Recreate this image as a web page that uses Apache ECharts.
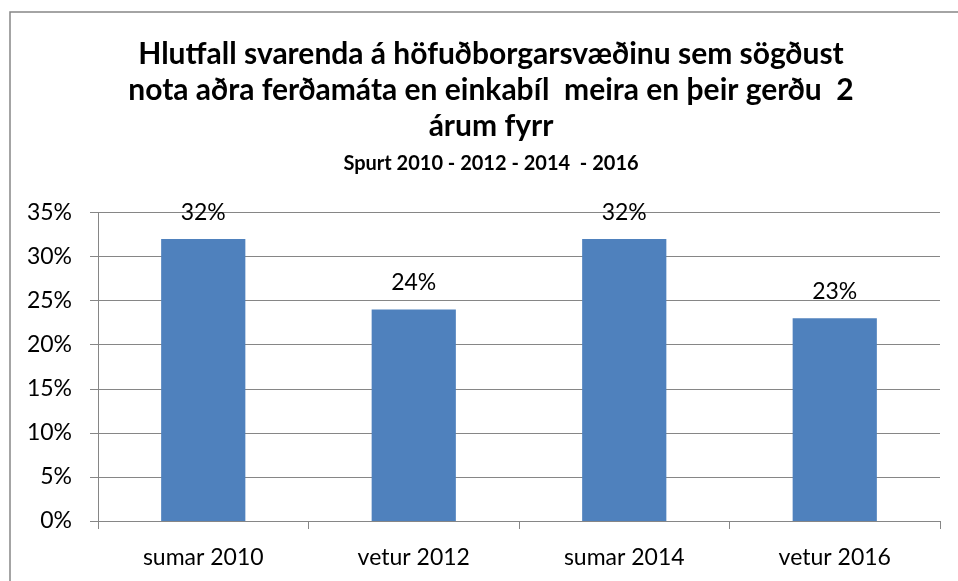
<!DOCTYPE html>
<html>
<head>
<meta charset="utf-8">
<script src="https://cdn.jsdelivr.net/npm/echarts@6/dist/echarts.min.js"></script>
<style>
  html, body { margin: 0; padding: 0; background: #fff; }
  #chart { width: 958px; height: 581px; }
</style>
</head>
<body>
<div id="chart"></div>
<script>
// gögn
const categories = ['sumar 2010', 'vetur 2012', 'sumar 2014', 'vetur 2016']
const values = [32, 24, 32, 23]
const titleLines = [
  'Hlutfall svarenda á höfuðborgarsvæðinu sem sögðust',
  'nota aðra ferðamáta en einkabíl  meira en þeir gerðu  2',
  'árum fyrr'
]
const subtitle = 'Spurt 2010 - 2012 - 2014  - 2016'

const font = 'Lato, "Open Sans", sans-serif'
const chart = echarts.init(document.getElementById('chart'))

chart.setOption({
  animation: false,
  graphic: [
    {
      type: 'rect',
      shape: { x: 10, y: 12, width: 1000, height: 1000 },
      style: { fill: 'none', stroke: '#868686', lineWidth: 1.5 }
    },
    {
      type: 'text',
      x: 491, y: 36,
      style: {
        text: titleLines.join('\n'),
        font: 'bold 30px ' + font,
        fill: '#000',
        textAlign: 'center',
        lineHeight: 36
      }
    },
    {
      type: 'text',
      x: 491, y: 164,
      style: {
        text: subtitle,
        font: 'bold 20px ' + font,
        fill: '#000',
        textAlign: 'center',
        verticalAlign: 'middle'
      }
    }
  ],
  grid: {
    left: 98,
    right: 18,
    top: 212.5,
    bottom: 60
  },
  xAxis: {
    type: 'category',
    data: categories,
    axisLine: { lineStyle: { color: '#868686', width: 1 } },
    axisTick: { show: true, length: 8, lineStyle: { color: '#868686' } },
    axisLabel: { color: '#000', fontSize: 23, fontFamily: font, margin: 25 }
  },
  yAxis: {
    type: 'value',
    min: 0,
    max: 35,
    interval: 5,
    axisLine: { show: true, lineStyle: { color: '#868686', width: 1 } },
    axisTick: { show: true, length: 8, lineStyle: { color: '#868686' } },
    axisLabel: { color: '#000', fontSize: 23, fontFamily: font, margin: 26, formatter: '{value}%' },
    splitLine: { lineStyle: { color: '#868686', width: 1 } }
  },
  series: [{
    type: 'bar',
    data: values,
    barWidth: '40%',
    itemStyle: { color: '#4F81BD' },
    label: {
      show: true,
      position: 'top',
      distance: 15,
      color: '#000',
      fontSize: 23,
      fontFamily: font,
      formatter: '{c}%'
    }
  }]
})
</script>
</body>
</html>
